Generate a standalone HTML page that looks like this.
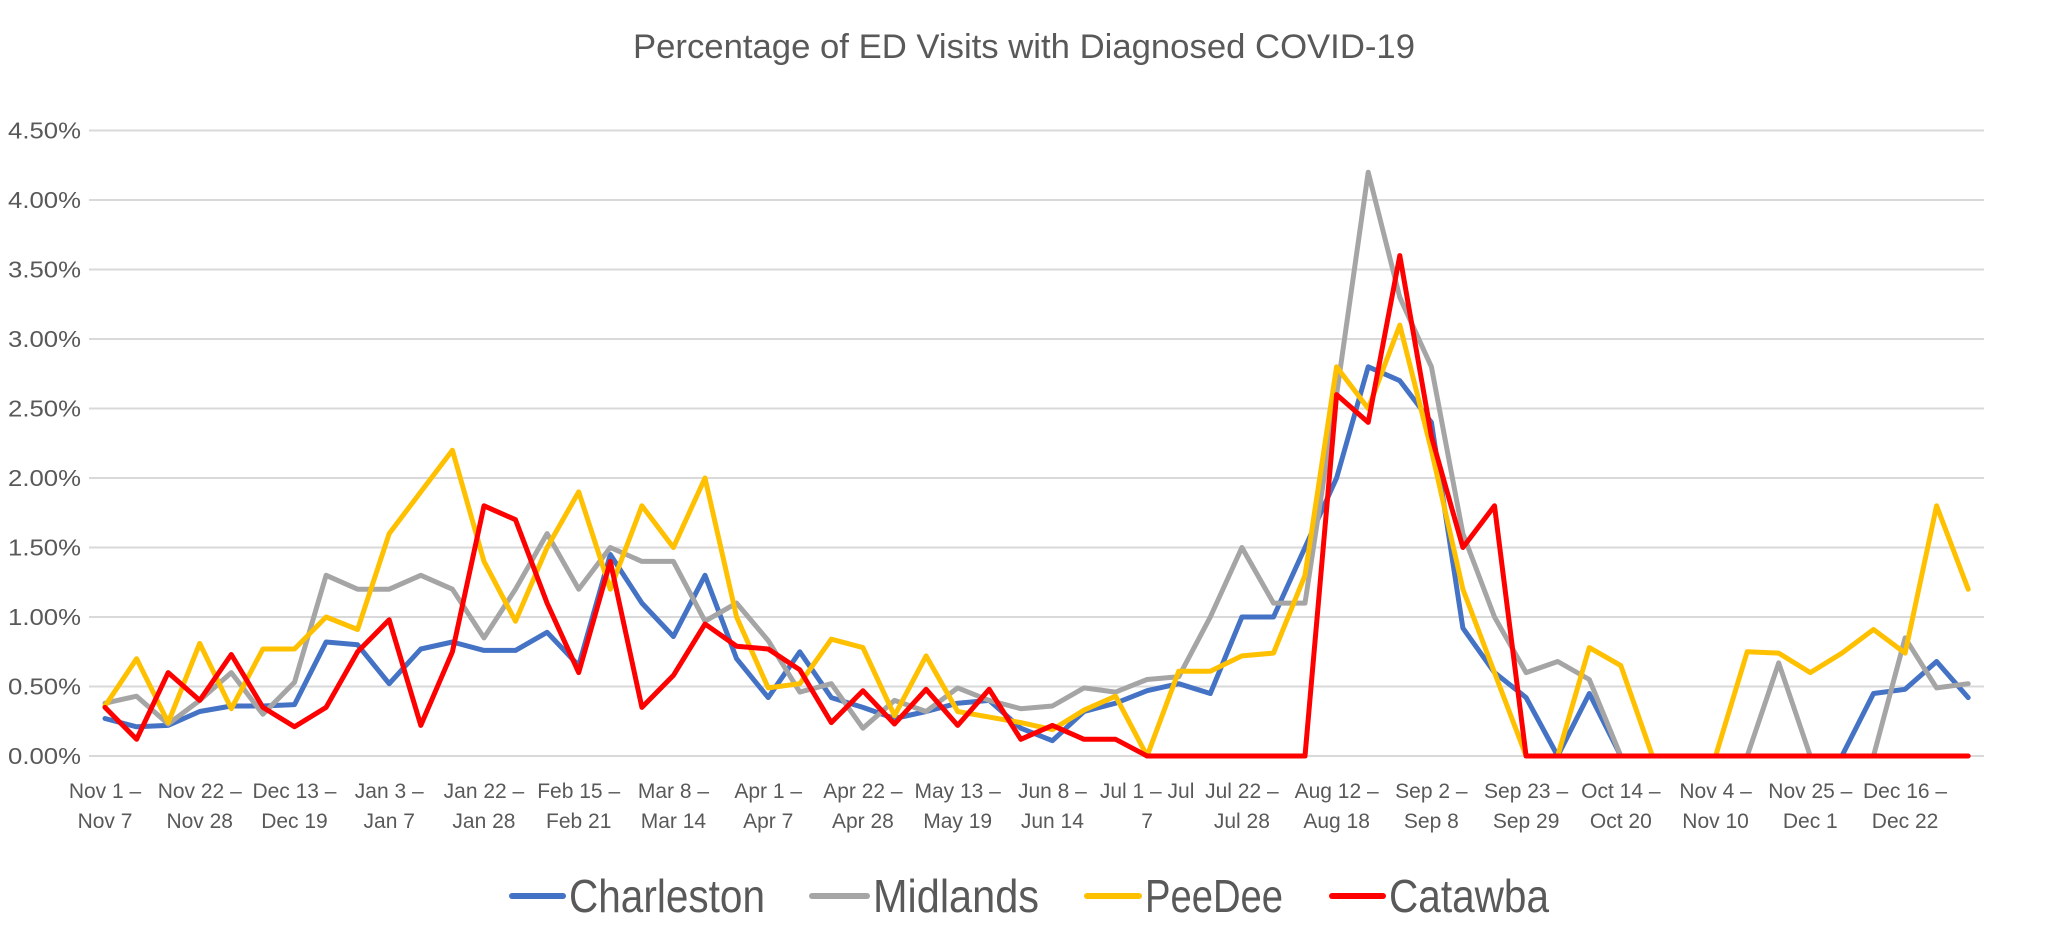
<!DOCTYPE html>
<html><head><meta charset="utf-8"><style>
html,body{margin:0;padding:0;background:#fff;}
svg{display:block;}
text{font-family:"Liberation Sans",sans-serif;fill:#595959;}
</style></head><body>
<svg width="2050" height="946" viewBox="0 0 2050 946" xmlns="http://www.w3.org/2000/svg">
<rect width="2050" height="946" fill="#fff"/>
<text x="1024" y="58" font-size="34" text-anchor="middle" textLength="782" lengthAdjust="spacingAndGlyphs">Percentage of ED Visits with Diagnosed COVID-19</text>
<g id="grid" stroke="#d9d9d9" stroke-width="2"></g>
<g id="ylab" font-size="23" text-anchor="end"></g>
<g id="xlab" font-size="21" text-anchor="middle"></g>
<g id="series" fill="none" stroke-width="5" stroke-linejoin="round" stroke-linecap="round"></g>
<g font-size="46">
<line x1="512" y1="896" x2="563" y2="896" stroke="#4472c4" stroke-width="6" stroke-linecap="round"/>
<text x="569" y="912" textLength="196" lengthAdjust="spacingAndGlyphs">Charleston</text>
<line x1="812" y1="896" x2="867" y2="896" stroke="#a5a5a5" stroke-width="6" stroke-linecap="round"/>
<text x="873" y="912" textLength="166" lengthAdjust="spacingAndGlyphs">Midlands</text>
<line x1="1087" y1="896" x2="1139" y2="896" stroke="#ffc000" stroke-width="6" stroke-linecap="round"/>
<text x="1145" y="912" textLength="138" lengthAdjust="spacingAndGlyphs">PeeDee</text>
<line x1="1332" y1="896" x2="1383" y2="896" stroke="#ff0000" stroke-width="6" stroke-linecap="round"/>
<text x="1389" y="912" textLength="160" lengthAdjust="spacingAndGlyphs">Catawba</text>
</g>
</svg>
<script>
const NS="http://www.w3.org/2000/svg";
const Y0=756, PER=139;
const X0=105, STEP=31.58;
const g=document.getElementById('grid'), yl=document.getElementById('ylab'), xl=document.getElementById('xlab'), s=document.getElementById('series');
for(let i=0;i<=9;i++){
  const y=Y0-i*0.5*PER;
  const l=document.createElementNS(NS,'line');
  l.setAttribute('x1',89);l.setAttribute('x2',1984);l.setAttribute('y1',y);l.setAttribute('y2',y);
  g.appendChild(l);
  const t=document.createElementNS(NS,'text');
  t.setAttribute('x',81);t.setAttribute('y',y+8);t.setAttribute('textLength',73);t.setAttribute('lengthAdjust','spacingAndGlyphs');
  t.textContent=(i*0.5).toFixed(2)+'%';
  yl.appendChild(t);
}
const labs=[["Nov 1 –","Nov 7"],["Nov 22 –","Nov 28"],["Dec 13 –","Dec 19"],["Jan 3 –","Jan 7"],["Jan 22 –","Jan 28"],["Feb 15 –","Feb 21"],["Mar 8 –","Mar 14"],["Apr 1 –","Apr 7"],["Apr 22 –","Apr 28"],["May 13 –","May 19"],["Jun 8 –","Jun 14"],["Jul 1 – Jul","7"],["Jul 22 –","Jul 28"],["Aug 12 –","Aug 18"],["Sep 2 –","Sep 8"],["Sep 23 –","Sep 29"],["Oct 14 –","Oct 20"],["Nov 4 –","Nov 10"],["Nov 25 –","Dec 1"],["Dec 16 –","Dec 22"]];
labs.forEach((p,i)=>{
  const x=X0+3*i*STEP;
  p.forEach((str,j)=>{
    const t=document.createElementNS(NS,'text');
    t.setAttribute('x',x);t.setAttribute('y',798+j*30);t.textContent=str;xl.appendChild(t);
  });
});
const z=n=>Array(n).fill(0);
const blue=[0.27,0.21,0.22,0.32,0.36,0.36,0.37,0.82,0.80,0.52,0.77,0.82,0.76,0.76,0.89,0.65,1.45,1.10,0.86,1.30,0.70,0.42,0.75,0.42,0.35,0.27,0.32,0.38,0.40,0.20,0.11,0.32,0.38,0.47,0.52,0.45,1.00,1.00,1.50,2.00,2.80,2.70,2.40,0.92,0.60,0.42,0.00,0.45,...z(8),0.45,0.48,0.68,0.42];
const gray=[0.38,0.43,0.23,0.40,0.60,0.30,0.53,1.30,1.20,1.20,1.30,1.20,0.85,1.20,1.60,1.20,1.50,1.40,1.40,0.97,1.10,0.83,0.46,0.52,0.20,0.40,0.32,0.49,0.40,0.34,0.36,0.49,0.46,0.55,0.57,1.00,1.50,1.10,1.10,2.60,4.20,3.30,2.80,1.60,1.00,0.60,0.68,0.55,0,0,0,0,0,0.67,0,0,0,0.85,0.49,0.52];
const yel=[0.36,0.70,0.24,0.81,0.34,0.77,0.77,1.00,0.91,1.60,1.90,2.20,1.40,0.97,1.50,1.90,1.20,1.80,1.50,2.00,1.00,0.49,0.52,0.84,0.78,0.29,0.72,0.32,0.28,0.24,0.19,0.33,0.43,0.00,0.61,0.61,0.72,0.74,1.30,2.80,2.50,3.10,2.20,1.20,0.60,0.00,0.00,0.78,0.65,0,0,0,0.75,0.74,0.60,0.74,0.91,0.74,1.80,1.20];
const red=[0.35,0.12,0.60,0.40,0.73,0.35,0.21,0.35,0.75,0.98,0.22,0.75,1.80,1.70,1.10,0.60,1.40,0.35,0.58,0.95,0.79,0.77,0.62,0.24,0.47,0.23,0.48,0.22,0.48,0.12,0.22,0.12,0.12,0,0,0,0,0,0,2.60,2.40,3.60,2.30,1.50,1.80,...z(15)];
[[blue,'#4472c4'],[gray,'#a5a5a5'],[yel,'#ffc000'],[red,'#ff0000']].forEach(([d,c])=>{
  const p=document.createElementNS(NS,'polyline');
  p.setAttribute('points',d.map((v,i)=>(X0+i*STEP).toFixed(1)+','+(Y0-v*PER).toFixed(1)).join(' '));
  p.setAttribute('stroke',c);s.appendChild(p);
});
</script>
</body></html>
